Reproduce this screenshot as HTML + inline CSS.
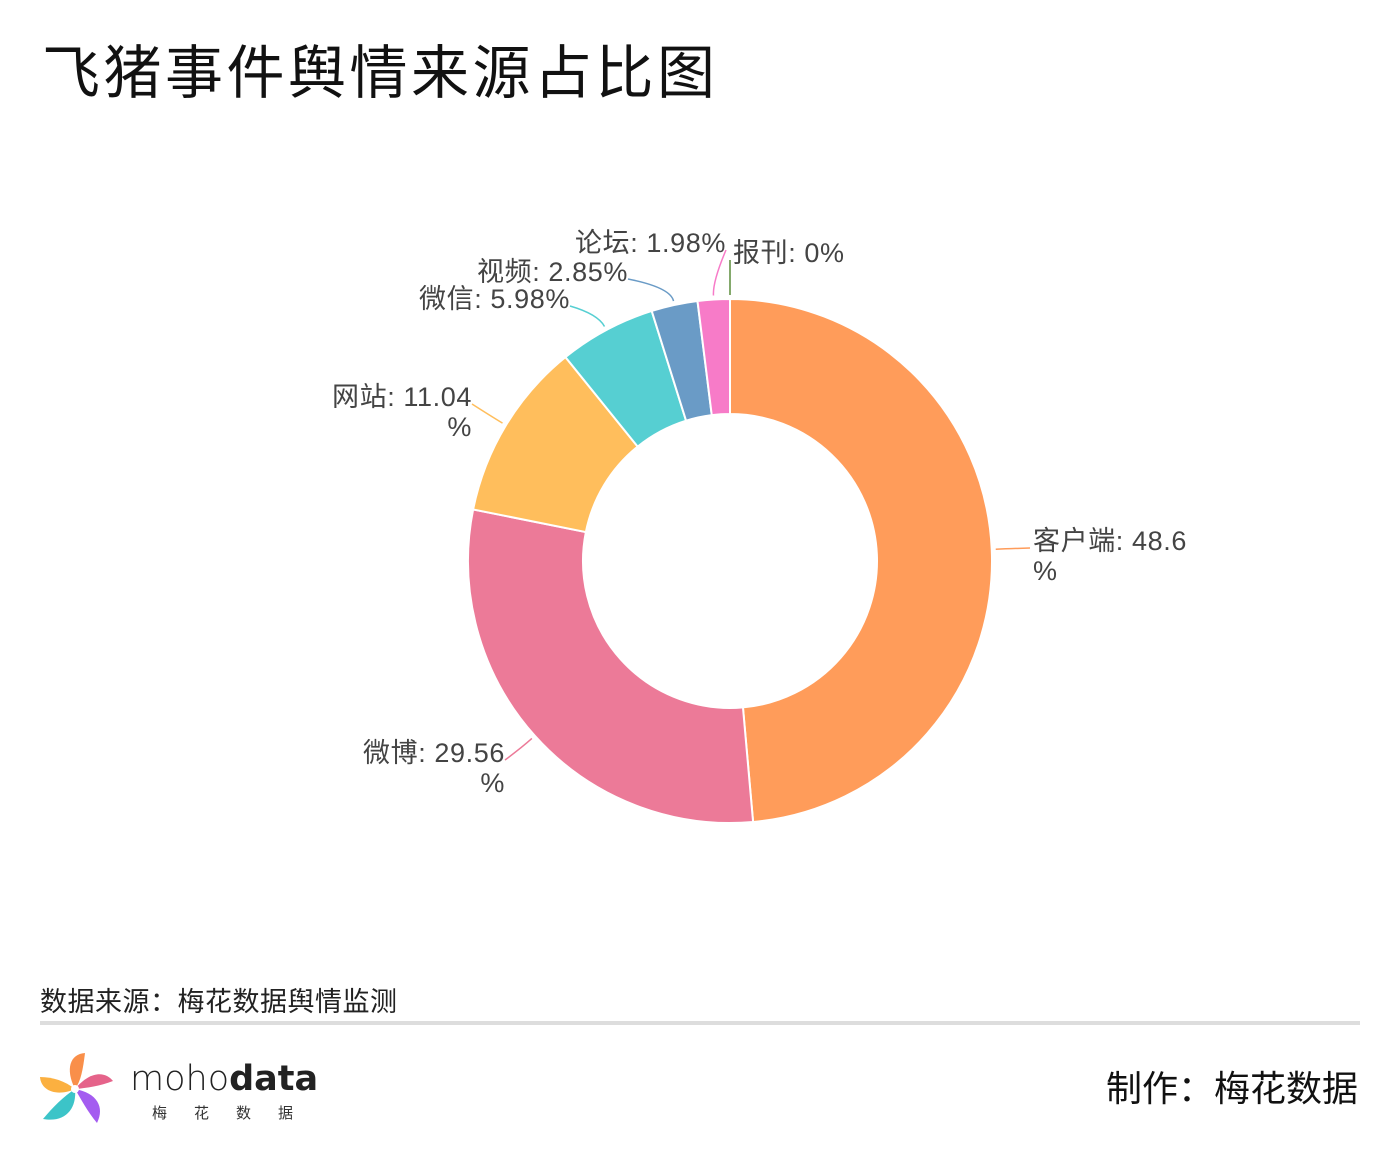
<!DOCTYPE html>
<html><head><meta charset="utf-8">
<style>
body{margin:0;width:1400px;height:1152px;background:#fff;overflow:hidden;font-family:"Liberation Sans","Noto Sans CJK SC",sans-serif;}
svg{position:absolute;left:0;top:0}
</style></head>
<body>
<svg id="chart" width="1400" height="1152">
<text x="42" y="93" font-size="58" fill="#111" letter-spacing="3.5" font-family="Liberation Sans, Noto Sans CJK SC, sans-serif">飞猪事件舆情来源占比图</text>
<g id="slices"></g>
<g id="labels"></g>
<text x="40" y="1011" font-size="27" fill="#222" letter-spacing="0.5" font-family="Liberation Sans, Noto Sans CJK SC, sans-serif">数据来源：梅花数据舆情监测</text>
<rect x="40" y="1021" width="1320" height="4" fill="#dddddd"/>
<text x="1358" y="1101" font-size="36" fill="#111" text-anchor="end" font-family="Liberation Sans, Noto Sans CJK SC, sans-serif">制作：梅花数据</text>
<g transform="translate(75,1089)">
<path d="M0,0 C-10,-20 -5,-35 10,-36 C8,-20 6,-8 0,0Z" fill="#F98F4A"/>
<path d="M0,0 C15,-18 30,-18 38,-8 C25,-3 12,-1 0,0Z" fill="#E5638A"/>
<path d="M0,0 C22,4 30,18 22,34 C12,22 6,10 0,0Z" fill="#A45CF0"/>
<path d="M0,0 C2,20 -10,34 -32,30 C-22,18 -12,8 0,0Z" fill="#3CC4C8"/>
<path d="M0,0 C-18,8 -34,2 -35,-12 C-22,-12 -10,-8 0,0Z" fill="#FBB040"/>
<circle cx="0" cy="0" r="4" fill="#fff"/>
</g>
<text x="130" y="1090" font-size="35" fill="#222" font-family="DejaVu Sans, sans-serif"><tspan font-weight="300">moho</tspan><tspan font-weight="bold">data</tspan></text>
<text x="152" y="1118" font-size="15" fill="#333" letter-spacing="27" font-family="Liberation Sans, Noto Sans CJK SC, sans-serif">梅花数据</text>
</svg>
<script>
const categories=["客户端","微博","网站","微信","视频","论坛","报刊"];
const values=[48.6,29.56,11.04,5.98,2.85,1.98,0];
const valueLabels=["48.6\n%","29.56\n%","11.04\n%","5.98%","2.85%","1.98%","0%"];
const colors=["#FF9C5A","#EC7A98","#FFBE5C","#56CFD2","#6A9BC6","#F77BC8","#5B8C3A"];
// label anchor points (layout)
const labelPos=[[1030,548,"start"],[505,760,"end"],[472,404,"end"],[570,306,"end"],[628,279,"end"],[726,250,"end"],[730,260,"start"]];
const cx=730,cy=561,R=262,r=147;
const NS="http://www.w3.org/2000/svg";
const total=values.reduce((a,b)=>a+b,0);
const sg=document.getElementById("slices"),lg=document.getElementById("labels");
function pt(a,rad){return [cx+rad*Math.sin(a),cy-rad*Math.cos(a)];}
let acc=0;
values.forEach((v,i)=>{
  const a0=acc/total*2*Math.PI;acc+=v;const a1=acc/total*2*Math.PI;
  const large=(a1-a0)>Math.PI?1:0;
  const p0=pt(a0,R),p1=pt(a1,R),q1=pt(a1,r),q0=pt(a0,r);
  if(v>0){
    const p=document.createElementNS(NS,"path");
    p.setAttribute("d",`M${p0[0]},${p0[1]}A${R},${R} 0 ${large} 1 ${p1[0]},${p1[1]}L${q1[0]},${q1[1]}A${r},${r} 0 ${large} 0 ${q0[0]},${q0[1]}Z`);
    p.setAttribute("fill",colors[i]);p.setAttribute("stroke","#fff");p.setAttribute("stroke-width","2");
    
    
    sg.appendChild(p);
  }
  const am=(a0+a1)/2;const s=pt(am,R+4);const lp=labelPos[i];
  const e=pt(am,R+18);
  const l=document.createElementNS(NS,"path");
  l.setAttribute("d",`M${s[0]},${s[1]}Q${e[0]},${e[1]} ${lp[0]},${lp[1]}`);
  l.setAttribute("fill","none");l.setAttribute("stroke",colors[i]);l.setAttribute("stroke-width","1.5");
  
  
  lg.appendChild(l);
  const t=document.createElementNS(NS,"text");
  const lines=(categories[i]+": "+valueLabels[i]).split("\n");
  const tx=lp[2]==="start"?lp[0]+3:lp[0];
  lines.forEach((ln,k)=>{const ts=document.createElementNS(NS,"tspan");ts.setAttribute("x",tx);ts.setAttribute("y",lp[1]+2+k*30);ts.textContent=ln;t.appendChild(ts);});
  t.setAttribute("text-anchor",lp[2]);t.setAttribute("font-size","27");t.setAttribute("fill","#444");t.setAttribute("letter-spacing","0.6");
  t.setAttribute("font-family","Liberation Sans, Noto Sans CJK SC, sans-serif");
  
  
  lg.appendChild(t);
});
</script>
</body></html>
